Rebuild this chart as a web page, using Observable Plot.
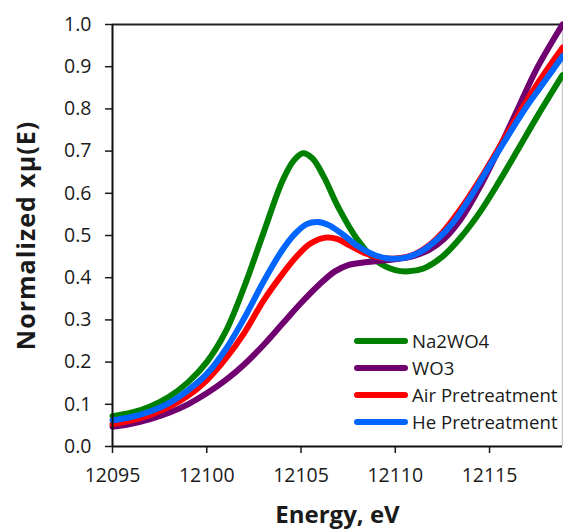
<!DOCTYPE html>
<html>
<head>
<meta charset="utf-8">
<script src="https://cdn.jsdelivr.net/npm/d3@7"></script>
<script src="https://cdn.jsdelivr.net/npm/@observablehq/plot@0.6"></script>
<style>
  html, body { margin: 0; padding: 0; background: #fff; }
  #wrap { position: relative; width: 563px; height: 529px; font-family: "Open Sans", sans-serif; color: #1a1a1a; }
  #legend { position: absolute; left: 354px; top: 327px; }
  .item { display: flex; align-items: center; height: 27px; }
  .sw { width: 54px; height: 6px; border-radius: 3px; margin-right: 4px; }
  .lab { font-size: 18.6px; line-height: 27px; white-space: nowrap; }
</style>
</head>
<body>
<div id="wrap"></div>
<script>
// ---- data ----
const seriesNames = ["Na2WO4", "WO3", "Air Pretreatment", "He Pretreatment"];
const seriesColors = ["#008000", "#700070", "#ff0000", "#0066ff"];

const na2wo4E = [12095, 12096, 12097, 12098, 12099, 12100, 12101, 12102, 12103, 12104, 12104.6, 12105.1, 12105.6, 12106.2, 12107, 12108, 12109, 12110, 12110.7, 12111.5, 12112.5, 12113.5, 12114.5, 12115.5, 12116.5, 12117.5, 12118.87];
const na2wo4Y = [0.072, 0.080, 0.095, 0.118, 0.152, 0.200, 0.272, 0.380, 0.505, 0.628, 0.677, 0.695, 0.683, 0.640, 0.565, 0.490, 0.440, 0.418, 0.415, 0.422, 0.450, 0.497, 0.556, 0.627, 0.703, 0.780, 0.880];

const wo3E = [12095, 12096, 12097, 12098, 12099, 12100, 12101, 12102, 12103, 12104, 12105, 12106, 12106.8, 12107.5, 12108.3, 12109.2, 12110.2, 12111, 12111.8, 12112.6, 12113.5, 12114.5, 12115.5, 12116.5, 12117.5, 12118.87];
const wo3Y = [0.047, 0.054, 0.065, 0.080, 0.100, 0.126, 0.157, 0.195, 0.240, 0.290, 0.340, 0.385, 0.415, 0.430, 0.436, 0.440, 0.445, 0.452, 0.466, 0.492, 0.540, 0.616, 0.705, 0.800, 0.895, 1.000];

const airE = [12095, 12096, 12097, 12098, 12099, 12100, 12101, 12102, 12103, 12104, 12104.8, 12105.5, 12106.3, 12106.9, 12107.6, 12108.4, 12109.3, 12110.2, 12111, 12111.8, 12112.6, 12113.5, 12114.5, 12115.5, 12116.5, 12117.5, 12118.87];
const airY = [0.053, 0.062, 0.075, 0.094, 0.120, 0.157, 0.208, 0.270, 0.345, 0.408, 0.452, 0.481, 0.495, 0.492, 0.476, 0.458, 0.447, 0.446, 0.455, 0.477, 0.512, 0.565, 0.633, 0.708, 0.784, 0.857, 0.945];

const heE = [12095, 12096, 12097, 12098, 12099, 12100, 12101, 12102, 12103, 12104, 12104.7, 12105.3, 12105.9, 12106.5, 12107.2, 12108, 12109, 12109.8, 12110.6, 12111.4, 12112.2, 12113, 12114, 12115, 12116, 12117, 12118, 12118.87];
const heY = [0.062, 0.070, 0.083, 0.103, 0.133, 0.172, 0.230, 0.305, 0.390, 0.465, 0.505, 0.527, 0.532, 0.524, 0.503, 0.475, 0.452, 0.445, 0.448, 0.463, 0.490, 0.527, 0.592, 0.665, 0.738, 0.808, 0.870, 0.925];

const xDomain = [12095, 12118.87];
const xTicks = [12095, 12100, 12105, 12110, 12115];
const yTicks = [0, 0.1, 0.2, 0.3, 0.4, 0.5, 0.6, 0.7, 0.8, 0.9, 1.0];
const xTitle = "Energy, eV";
const yTitle = "Normalized xμ(E)";

// ---- build ----
const seriesE = [na2wo4E, wo3E, airE, heE];
const seriesY = [na2wo4Y, wo3Y, airY, heY];
const lineMarks = seriesE.map((E, i) =>
  Plot.line(E.map((e, j) => ({E: e, v: seriesY[i][j]})), {
    x: "E", y: "v", stroke: seriesColors[i], strokeWidth: 6,
    curve: "catmull-rom", strokeLinecap: "round", strokeLinejoin: "round"
  })
);

const chart = Plot.plot({
  width: 563,
  height: 529,
  marginLeft: 112,
  marginRight: 1,
  marginTop: 24,
  marginBottom: 83,
  style: {fontFamily: "Open Sans, sans-serif", fontSize: "19.5px", color: "#1a1a1a", background: "#fff"},
  x: {domain: xDomain},
  y: {domain: [yTicks[0], yTicks[yTicks.length - 1]]},
  marks: [
    Plot.ruleX([xDomain[1]], {stroke: "#c8c8c8", strokeWidth: 1.5}),
    Plot.ruleY([yTicks[yTicks.length - 1]], {stroke: "#222", strokeWidth: 2}),
    ...lineMarks,
    Plot.axisX({ticks: xTicks, tickSize: 7, tickPadding: 15, strokeWidth: 1.5, tickFormat: d => String(d), label: null}),
    Plot.axisY({ticks: yTicks, tickSize: 7, tickPadding: 14, strokeWidth: 1.5, tickFormat: d3.format(".1f"), label: null}),
    Plot.ruleX([xDomain[0]], {stroke: "#111", strokeWidth: 2}),
    Plot.ruleY([yTicks[0]], {stroke: "#111", strokeWidth: 2}),
    Plot.text([xTitle], {text: d => d, frameAnchor: "bottom", dy: 69, fontSize: 24, fontWeight: "bold", lineAnchor: "middle"}),
    Plot.text([yTitle], {text: d => d, frameAnchor: "left", textAnchor: "middle", dx: -86, rotate: -90, fontSize: 25, fontWeight: "bold", lineAnchor: "middle"})
  ]
});

// slight letter spacing on the vertical title to match the reference's length
d3.select(chart).selectAll("text").filter(function() { return this.textContent === yTitle; })
  .style("letter-spacing", "1px");

const wrap = document.getElementById("wrap");
wrap.appendChild(chart);

const legend = document.createElement("div");
legend.id = "legend";
seriesNames.forEach((name, i) => {
  const item = document.createElement("div");
  item.className = "item";
  const sw = document.createElement("div");
  sw.className = "sw";
  sw.style.background = seriesColors[i];
  const lab = document.createElement("span");
  lab.className = "lab";
  lab.textContent = name;
  item.appendChild(sw);
  item.appendChild(lab);
  legend.appendChild(item);
});
wrap.appendChild(legend);
</script>
</body>
</html>
